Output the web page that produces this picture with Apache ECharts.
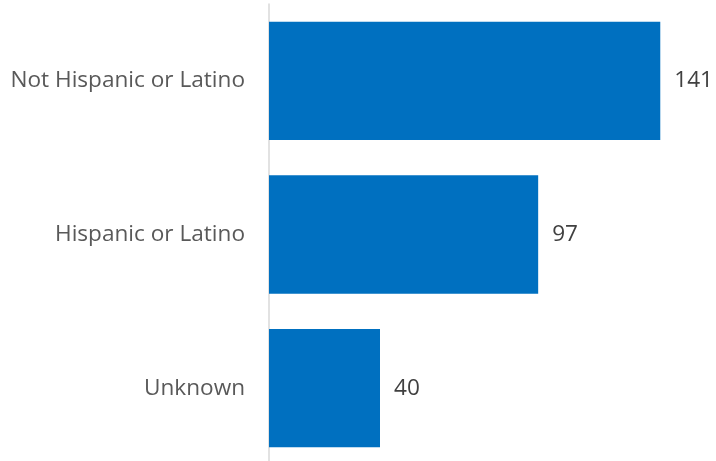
<!DOCTYPE html>
<html><head><meta charset="utf-8">
<script src="https://cdn.jsdelivr.net/npm/echarts@6/dist/echarts.min.js"></script>
<style>html,body{margin:0;padding:0;background:#fff}#c{width:716px;height:461px}</style>
</head><body><div id="c"></div>
<script>
const categories = ["Not Hispanic or Latino", "Hispanic or Latino", "Unknown"];
const values = [141, 97, 40];

const chart = echarts.init(document.getElementById('c'), null, {renderer: 'canvas'});
chart.setOption({
  animation: false,
  grid: {left: 269, top: 4, width: 444, height: 461, containLabel: false, outerBoundsMode: 'none'},
  xAxis: {type: 'value', min: 0, max: 160, show: false},
  yAxis: {
    type: 'category', data: categories, inverse: true,
    axisLine: {show: true, lineStyle: {color: '#d9d9d9', width: 1.5}},
    axisTick: {show: false},
    axisLabel: {color: '#595959', fontSize: 22.6, fontFamily: 'Open Sans', margin: 24}
  },
  series: [{
    type: 'bar', data: values, barCategoryGap: '23%',
    itemStyle: {color: '#0070c0'},
    label: {show: true, position: 'right', distance: 14, color: '#404040', fontSize: 22.6, fontFamily: 'Open Sans'}
  }]
});
</script></body></html>
